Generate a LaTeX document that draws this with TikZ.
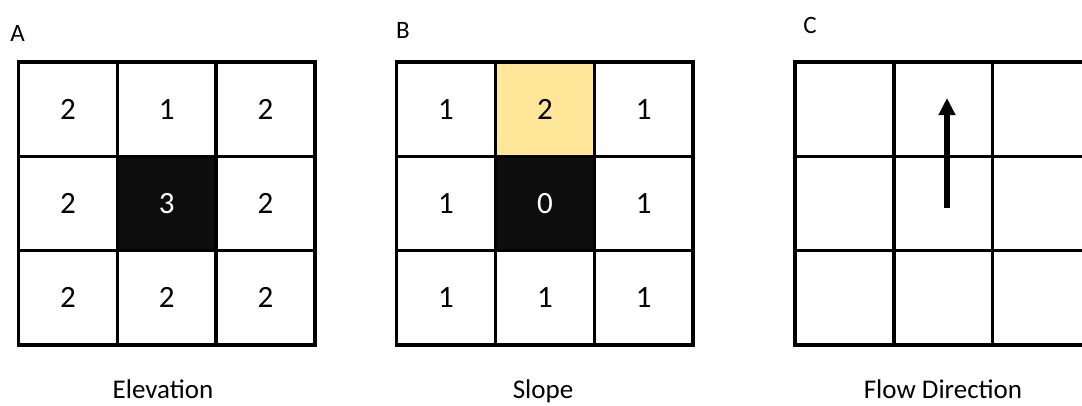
\documentclass[tikz,border=0pt]{standalone}
\usepackage{fontspec}
\setmainfont{Carlito}
\usetikzlibrary{arrows.meta}
\definecolor{gold}{HTML}{FFE699}
\definecolor{cellblack}{HTML}{0D0D0D}
\begin{document}
\begin{tikzpicture}[x=1pt,y=-1pt,
  cell/.style={draw=black,line width=3.5pt,minimum width=98.8pt,minimum height=94.3pt,inner sep=0pt,font=\fontsize{31}{35}\selectfont},
  dark/.style={cell,fill=cellblack,text=white},
  hi/.style={cell,fill=gold},
  lbl/.style={font=\fontsize{25}{29}\selectfont,inner sep=0pt},
  caption text/.style={font=\fontsize{27}{31}\selectfont,inner sep=0pt,anchor=base},
  flow/.style={line width=6pt,-{Triangle[length=17pt,width=16pt]}}]
\useasboundingbox[fill=white] (0,0) rectangle (1082,405);
% Grid A
\def\ax{18.5}
\node[cell] (A00) at (\ax+49.4,62+47.15) {2};
\node[cell] (A01) at (\ax+148.2,62+47.15) {1};
\node[cell] (A02) at (\ax+247,62+47.15) {2};
\node[cell] (A10) at (\ax+49.4,62+141.45) {2};
\node[dark] (A11) at (\ax+148.2,62+141.45) {3};
\node[cell] (A12) at (\ax+247,62+141.45) {2};
\node[cell] (A20) at (\ax+49.4,62+235.75) {2};
\node[cell] (A21) at (\ax+148.2,62+235.75) {2};
\node[cell] (A22) at (\ax+247,62+235.75) {2};
% Grid B
\def\bx{396.7}
\node[cell] (B00) at (\bx+49.4,62+47.15) {1};
\node[hi]   (B01) at (\bx+148.2,62+47.15) {2};
\node[cell] (B02) at (\bx+247,62+47.15) {1};
\node[cell] (B10) at (\bx+49.4,62+141.45) {1};
\node[dark] (B11) at (\bx+148.2,62+141.45) {0};
\node[cell] (B12) at (\bx+247,62+141.45) {1};
\node[cell] (B20) at (\bx+49.4,62+235.75) {1};
\node[cell] (B21) at (\bx+148.2,62+235.75) {1};
\node[cell] (B22) at (\bx+247,62+235.75) {1};
% Grid C
\def\cx{795}
\node[cell] (C00) at (\cx+49.4,62+47.15) {};
\node[cell] (C01) at (\cx+148.2,62+47.15) {};
\node[cell] (C02) at (\cx+247,62+47.15) {};
\node[cell] (C10) at (\cx+49.4,62+141.45) {};
\node[cell] (C11) at (\cx+148.2,62+141.45) {};
\node[cell] (C12) at (\cx+247,62+141.45) {};
\node[cell] (C20) at (\cx+49.4,62+235.75) {};
\node[cell] (C21) at (\cx+148.2,62+235.75) {};
\node[cell] (C22) at (\cx+247,62+235.75) {};
% arrow
\coordinate (arrS) at (947,208);
\coordinate (arrE) at (947,98);
\draw[flow] (arrS) -- (arrE);
% labels
\node[lbl] (la) at (17.5,33) {A};
\node[lbl] (lb) at (403,30) {B};
\node[lbl] (lc) at (810,25) {C};
\node[caption text] (ea) at (163,398) {Elevation};
\node[caption text] (sb) at (543,398) {Slope};
\node[caption text] (fc) at (943,398) {Flow Direction};
\end{tikzpicture}
\end{document}
